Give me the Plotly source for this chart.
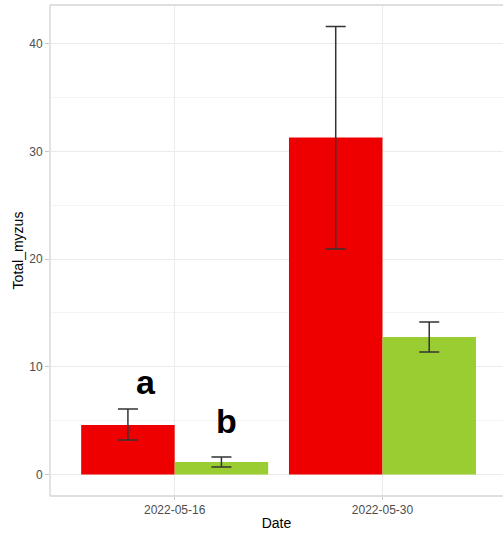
import plotly.graph_objects as go

dates = ["2022-05-16", "2022-05-30"]
red_mean = [4.6, 31.3]
red_low = [3.2, 20.95]
red_high = [6.08, 41.6]
green_mean = [1.15, 12.77]
green_low = [0.7, 11.37]
green_high = [1.62, 14.16]
labels = ["a", "b"]
label_x = [0.86, 1.25]
label_y = [8.6, 5.0]

xpos = [1, 2]

fig = go.Figure()
for mean, low, high, color in [(red_mean, red_low, red_high, "#EE0000"),
                               (green_mean, green_low, green_high, "#9ACD32")]:
    fig.add_trace(go.Bar(
        x=xpos, y=mean, marker=dict(color=color, line=dict(width=0)),
        error_y=dict(type="data", symmetric=False,
                     array=[h - m for h, m in zip(high, mean)],
                     arrayminus=[m - l for m, l in zip(mean, low)],
                     color="#333333", thickness=1.5, width=10),
        showlegend=False, hoverinfo="skip",
    ))

for t, xx, yy in zip(labels, label_x, label_y):
    fig.add_annotation(x=xx, y=yy, text="<b>%s</b>" % t, showarrow=False,
                       font=dict(size=34, color="black", family="Liberation Sans"),
                       xref="x", yref="y")

border = "#D4D4D4"
for x0, y0, x1, y1 in [(0, 0, 0, 1), (0, 1, 1, 1), (0, 0, 1, 0)]:
    fig.add_shape(type="line", xref="paper", yref="paper", x0=x0, y0=y0, x1=x1, y1=y1,
                  line=dict(color=border, width=1.3))

fig.update_layout(
    width=503, height=535,
    margin=dict(l=50, r=0, t=5, b=39, autoexpand=False),
    plot_bgcolor="white", paper_bgcolor="white",
    barmode="group", bargap=0.1, bargroupgap=0,
    font=dict(family="Liberation Sans", color="black"),
    xaxis=dict(
        range=[0.4, 2.58], tickmode="array", tickvals=xpos, ticktext=dates,
        showgrid=True, gridcolor="#EBEBEB", gridwidth=1, zeroline=False,
        ticks="outside", ticklen=3, tickcolor="#C8C8C8",
        tickfont=dict(size=12, color="#4D4D4D"), automargin=False,
        title=dict(text="Date", font=dict(size=14, color="black"), standoff=1),
    ),
    yaxis=dict(
        range=[-2.0, 43.6], tickvals=[0, 10, 20, 30, 40],
        showgrid=True, gridcolor="#EBEBEB", gridwidth=1, zeroline=False,
        minor=dict(dtick=5, tick0=0, showgrid=True, gridcolor="#F4F4F4", gridwidth=1),
        ticks="outside", ticklen=4, tickcolor="#C8C8C8",
        tickfont=dict(size=12, color="#4D4D4D"), automargin=False,
        title=dict(text="Total_myzus", font=dict(size=14, color="black"), standoff=2),
    ),
)

fig.write_html("out.html", config={"displayModeBar": False},
               post_script="document.body.style.margin='0';")
